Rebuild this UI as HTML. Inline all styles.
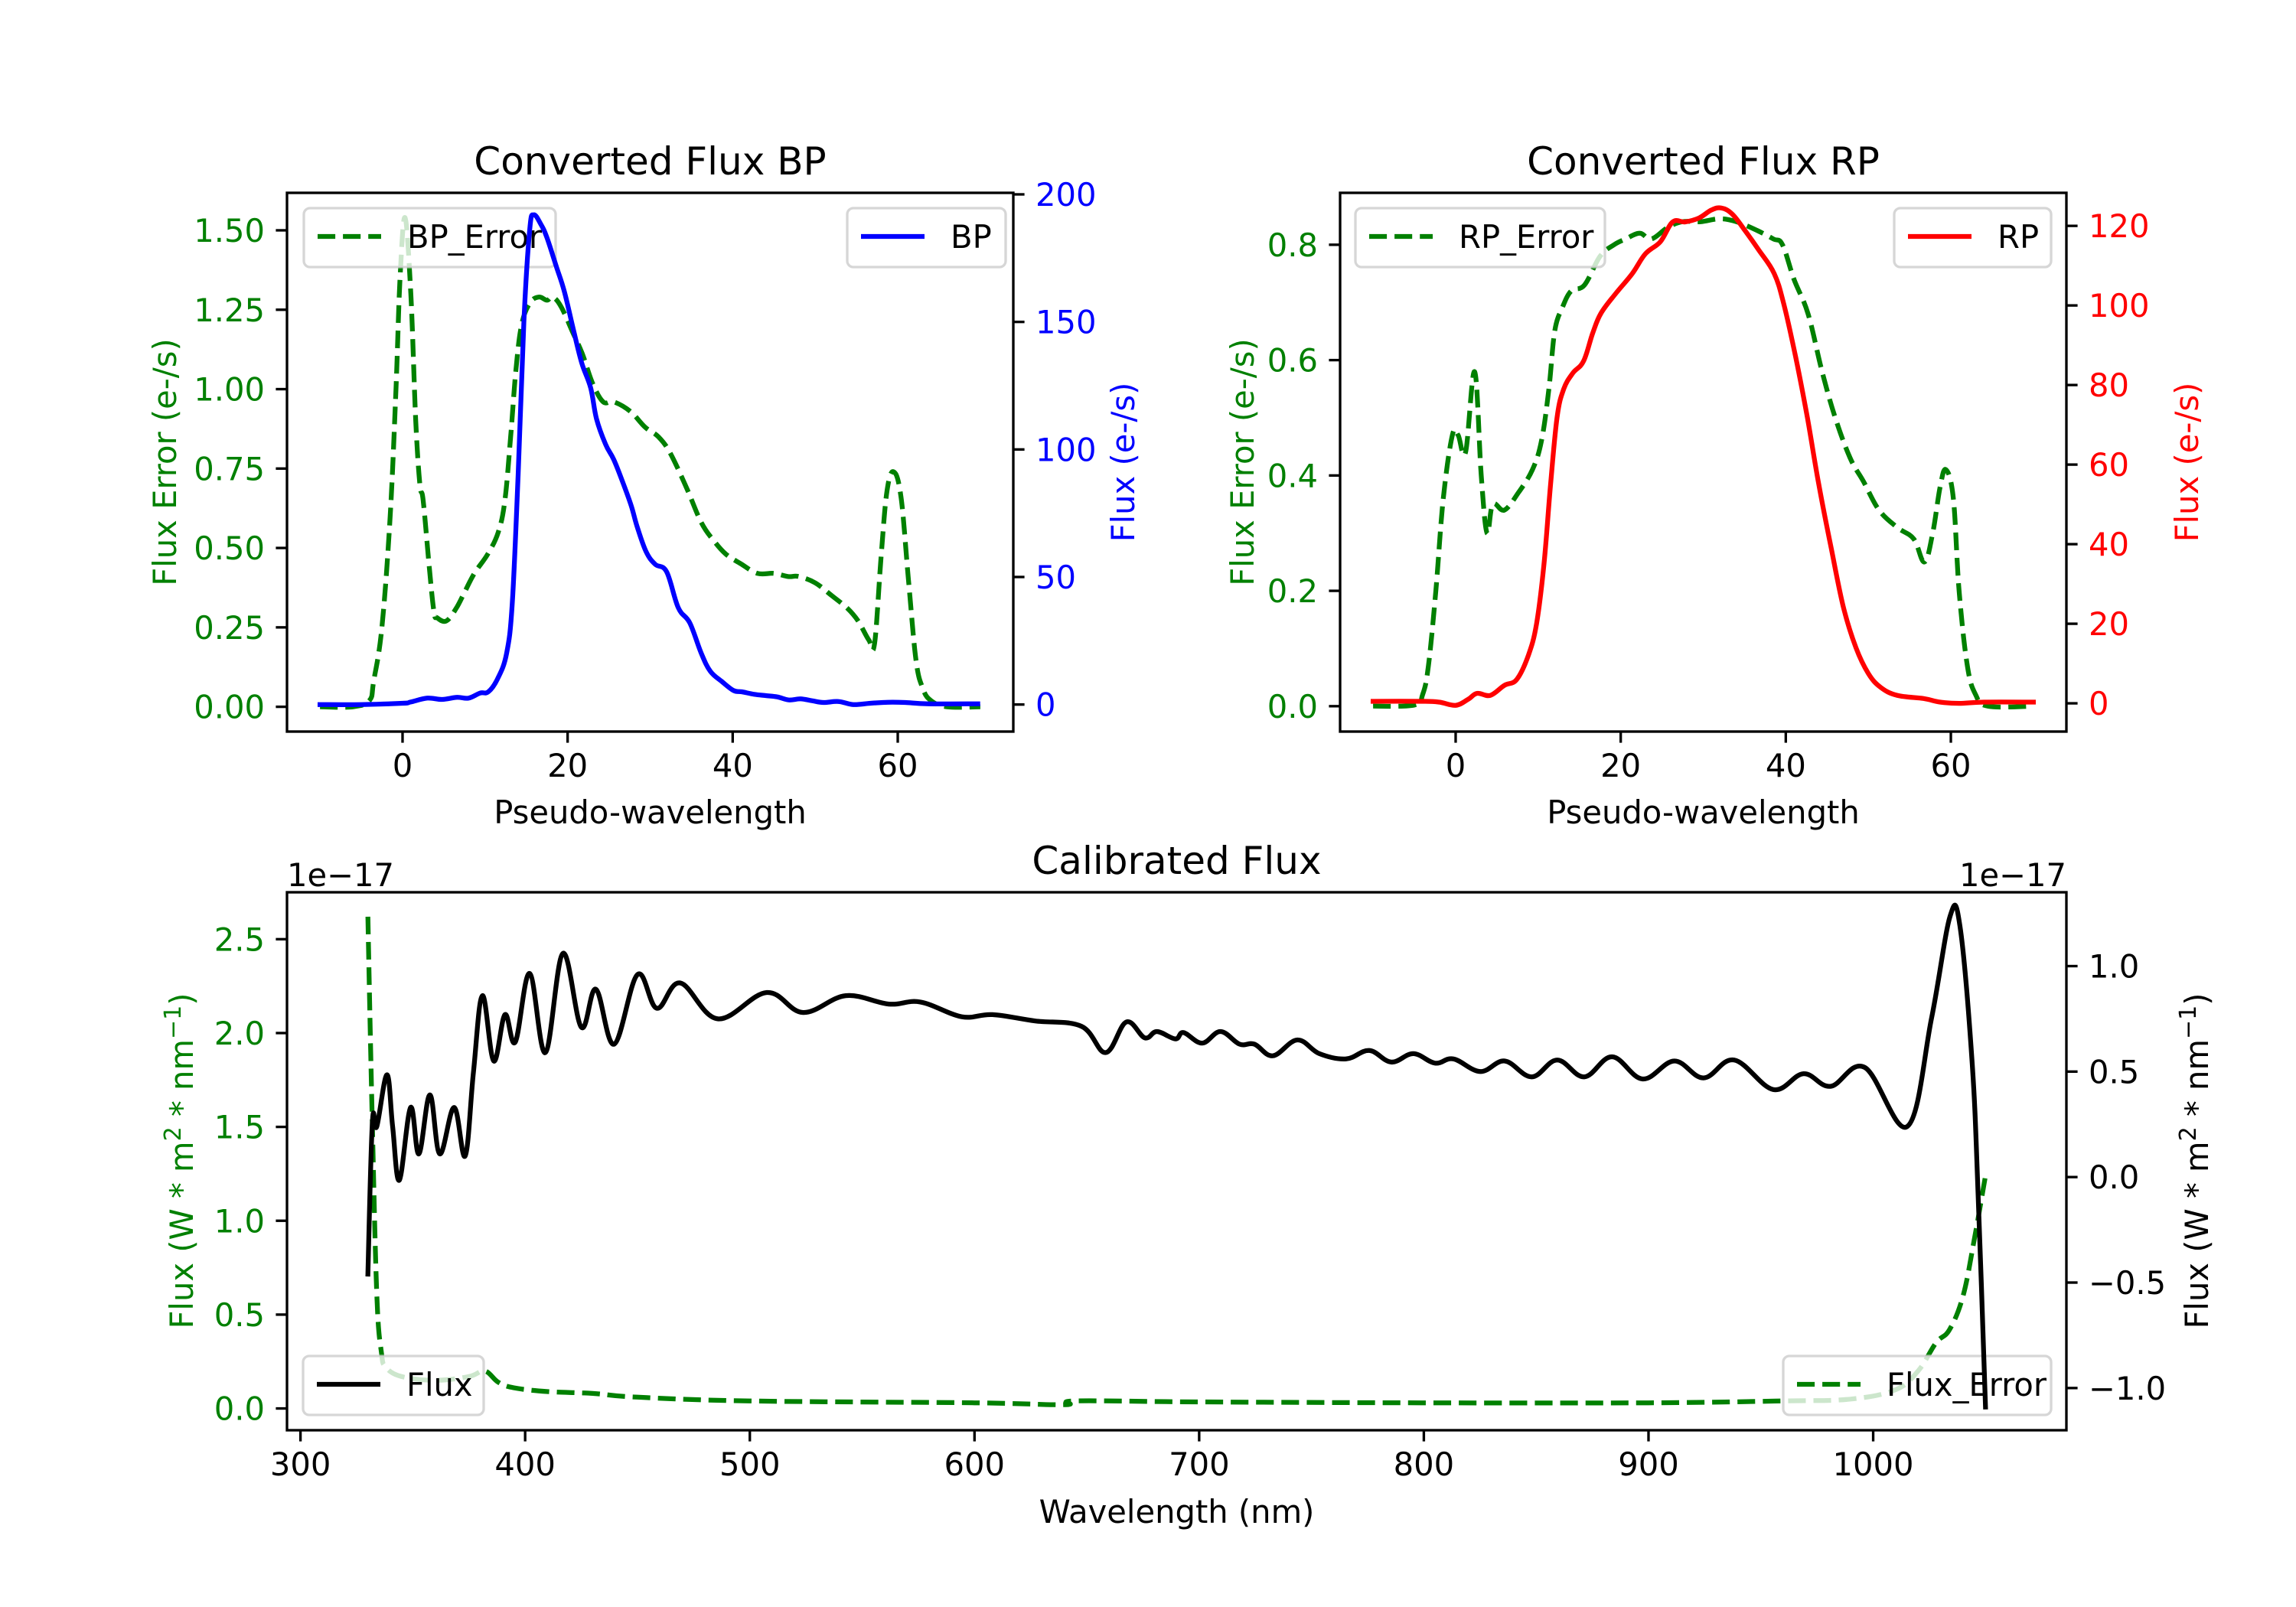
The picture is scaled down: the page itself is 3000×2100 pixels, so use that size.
<!DOCTYPE html>
<html><head><meta charset="utf-8"><style>
html,body{margin:0;padding:0;background:#fff}
svg{display:block;font-family:"DejaVu Sans","Liberation Sans",sans-serif}
</style></head><body>
<svg id="fig" width="3000" height="2100" viewBox="0 0 3000 2100" xmlns="http://www.w3.org/2000/svg"></svg>
<script>
// ---- data ----
const bpX=[-10,-5,0,1,3,4.8,6.6,8,9.4,10.4,11.5,12.6,13.3,14,14.7,15.4,15.9,16.8,17.5,18.6,19.6,20.7,21.7,22.8,23.5,24.6,25.6,26.7,27.7,28.4,29.5,30.6,32,33.4,34.8,36.2,37.3,38.7,40.1,41.1,42.6,44,45.4,46.8,48.2,49.6,51,52.8,54.6,56.7,58.8,60.9,63.7,69.7];
const bpFlux=[0,0,0.5,1,2.5,2,2.8,2.5,4.5,5,10,20,40,90,150,186,192,188,183,172,162,147,134,124,112,102,96,87,78,70,60,55,52,38,32,20,13,9,5.5,5,4,3.5,3,1.8,2.2,1.5,0.8,1.2,0,0.5,0.9,0.8,0.3,0.3];
const bpErrX=[-10,-6,-4,-3.5,-2.5,-1.5,-0.8,-0.3,0.3,1,1.6,2.1,2.5,3.2,3.8,4.2,5.3,6.5,7.5,8.7,10.3,11.6,12.4,13.1,13.7,14.4,15.4,16.5,17.5,18.2,19.2,20.6,21.8,23,24.3,25.6,27.6,29.4,31,32.4,34.4,36.2,37.8,39.2,41,43,45,46.7,48,50,52,53.9,55.2,56.5,57.2,58,58.7,59.5,60.4,61.3,62.2,63,64,66,70];
const bpErr=[0,0,0.02,0.08,0.25,0.6,1.0,1.35,1.54,1.3,0.9,0.7,0.65,0.45,0.3,0.28,0.27,0.31,0.36,0.42,0.48,0.55,0.65,0.85,1.05,1.2,1.27,1.29,1.28,1.29,1.26,1.18,1.11,1.02,0.96,0.96,0.93,0.88,0.85,0.8,0.69,0.58,0.52,0.48,0.45,0.42,0.42,0.41,0.41,0.39,0.35,0.31,0.27,0.21,0.2,0.48,0.68,0.74,0.66,0.4,0.15,0.06,0.02,0,0];
const rpX=[-10,-4,-2,0,1.5,2.6,4.2,5.9,7.4,8.8,9.8,10.7,11.5,12.3,13.1,14.2,15.5,16.6,17.6,19.4,21.4,23,24.8,26.3,27.8,29.5,31,32.2,33.5,35,36.7,38.6,39.8,41.2,42.6,44,45.5,47,48.5,50,51.5,53.5,56.7,58.7,61,64,70];
const rpFlux=[0.5,0.5,0.3,-0.5,1,2.5,2,4.5,6,12,20,35,55,72,79,83,86,93,98,103,108,113,116,121,121,122,124,124.5,123,119,114,108,100,87,72,55,39,24,14,7.5,4,2,1.2,0.3,0,0.3,0.3];
const rpErrX=[-10,-5,-4,-3.3,-2.4,-1.5,-0.4,0.3,1.2,2.3,3.1,3.8,4.5,5.9,7.6,9.3,10.4,11.3,12,12.9,14,15.6,17.5,19.2,20.6,22.3,23.7,25.7,27.5,29.7,32,34,36.5,38.5,39.6,41,42.7,44.4,46,47.8,49.4,51.3,53.5,55.5,56.8,57.8,58.7,59.4,60.3,61,62,63,64.5,70];
const rpErr=[0,0.002,0.02,0.07,0.2,0.36,0.47,0.47,0.44,0.58,0.4,0.3,0.35,0.34,0.37,0.41,0.46,0.55,0.65,0.69,0.72,0.73,0.78,0.8,0.81,0.82,0.81,0.83,0.84,0.84,0.845,0.84,0.825,0.81,0.8,0.74,0.68,0.58,0.5,0.43,0.39,0.34,0.31,0.29,0.25,0.3,0.38,0.41,0.36,0.2,0.07,0.02,0,0];
const calX=[330,332,334,338.5,341,344,349,352.7,357.6,362,368.4,373.3,377,381,386,391,395.6,402,409,416.8,425,431.5,439.6,450,458.6,469,485.7,507.5,523.7,542.7,561.8,575.9,594.3,608,627,647.6,658.4,667.6,675.8,681.2,689.4,693,701.3,709.5,718,724.6,732.8,743.7,753.5,765.4,775.7,785.5,795.3,805,813.2,825.1,836,848,859.4,871.4,883.8,897.4,911.5,924.5,938.1,955.5,969,981,996.2,1015.2,1026,1034.2,1038.6,1044,1046.7,1050];
const calFlux=[-0.46,0.26,0.24,0.485,0.24,-0.015,0.33,0.11,0.39,0.11,0.33,0.1,0.5,0.86,0.55,0.77,0.64,0.965,0.59,1.06,0.71,0.89,0.63,0.96,0.8,0.92,0.75,0.875,0.78,0.86,0.82,0.83,0.76,0.77,0.74,0.715,0.59,0.735,0.66,0.69,0.655,0.685,0.635,0.69,0.63,0.63,0.575,0.65,0.585,0.56,0.6,0.545,0.585,0.54,0.56,0.5,0.55,0.475,0.555,0.475,0.57,0.465,0.55,0.47,0.555,0.415,0.49,0.43,0.52,0.24,0.755,1.235,1.19,0.55,-0.08,-1.09];
const calErrX=[330,332,334,336,338,345,360,375,382,388,395,410,430,450,500,600,640,645,700,800,900,960,990,1010,1020,1028,1034,1040,1045,1050];
const calErr=[2.62,1.5,0.6,0.3,0.22,0.17,0.15,0.17,0.2,0.14,0.11,0.09,0.08,0.06,0.04,0.03,0.02,0.04,0.035,0.03,0.03,0.04,0.05,0.1,0.2,0.35,0.42,0.6,0.9,1.24];
const pseudoTicks=[0,20,40,60];
const bpErrTicks=[0,0.25,0.5,0.75,1.0,1.25,1.5];
const bpErrTickLabels=["0.00","0.25","0.50","0.75","1.00","1.25","1.50"];
const bpTicks=[0,50,100,150,200];
const rpErrTicks=[0,0.2,0.4,0.6,0.8];
const rpErrTickLabels=["0.0","0.2","0.4","0.6","0.8"];
const rpTicks=[0,20,40,60,80,100,120];
const wlTicks=[300,400,500,600,700,800,900,1000];
const calErrTicks=[0,0.5,1.0,1.5,2.0,2.5];
const calErrTickLabels=["0.0","0.5","1.0","1.5","2.0","2.5"];
const calTicks=[-1.0,-0.5,0,0.5,1.0];
const calTickLabels=["\u22121.0","\u22120.5","0.0","0.5","1.0"];

// ---- drawing ----
const NS="http://www.w3.org/2000/svg";
const svg=document.getElementById('fig');
function el(tag,attrs,parent){const e=document.createElementNS(NS,tag);for(const k in attrs)e.setAttribute(k,attrs[k]);(parent||svg).appendChild(e);return e;}
function scale(d0,d1,p0,p1){return v=>p0+(v-d0)*(p1-p0)/(d1-d0);}
const FS=41.67, TFS=50, LW=6.25, SW=3.33, TL=14.6;
function txt(s,x,y,opts,name){const t=el('text',Object.assign({x:x,y:y,'font-size':FS,fill:'#000'},opts||{}));t.textContent=s;

return t;}
function line(xs,ys,sx,sy,color,dashed,name){
  const P=xs.map((x,i)=>[sx(x),sy(ys[i])]);
  let d='M'+P[0][0].toFixed(1)+','+P[0][1].toFixed(1);
  const k=0.18;
  for(let i=0;i<P.length-1;i++){
    const p0=P[Math.max(0,i-1)],p1=P[i],p2=P[i+1],p3=P[Math.min(P.length-1,i+2)];
    const c1=[p1[0]+(p2[0]-p0[0])*k,p1[1]+(p2[1]-p0[1])*k];
    const c2=[p2[0]-(p3[0]-p1[0])*k,p2[1]-(p3[1]-p1[1])*k];
    d+='C'+c1[0].toFixed(1)+','+c1[1].toFixed(1)+' '+c2[0].toFixed(1)+','+c2[1].toFixed(1)+' '+p2[0].toFixed(1)+','+p2[1].toFixed(1);
  }
  const p=el('path',{d:d,fill:'none',stroke:color,'stroke-width':LW,'stroke-linejoin':'round','stroke-linecap':dashed?'butt':'square'});
  if(dashed)p.setAttribute('stroke-dasharray','23.1,10');
  
  
  return p;}
function xticks(ticks,labels,sx,y,name){ticks.forEach((t,i)=>{const x=sx(t);
  const l=el('line',{x1:x,x2:x,y1:y,y2:y+TL,stroke:'#000','stroke-width':SW});
  
  
  txt(labels[i],x,y+TL+14.6+30,{'text-anchor':'middle'},name+'-tick-label');});}
function yticks(ticks,labels,sy,x,side,color,name){ticks.forEach((t,i)=>{const y=sy(t);const dx=side==='left'?-TL:TL;
  const l=el('line',{x1:x,x2:x+dx,y1:y,y2:y,stroke:'#000','stroke-width':SW});
  
  
  txt(labels[i],side==='left'?x-29:x+29,y+15,{'text-anchor':side==='left'?'end':'start',fill:color},name+'-tick-label');});}
function frame(x0,y0,x1,y1,name){const r=el('rect',{x:x0,y:y0,width:x1-x0,height:y1-y0,fill:'none',stroke:'#000','stroke-width':SW});
  
  }
function legend(x,y,w,label,color,dashed,name){const g=el('g',{});
  
  
  el('rect',{x:x,y:y,width:w,height:77,rx:8,fill:'#fff','fill-opacity':0.8,stroke:'#cccccc','stroke-opacity':0.8,'stroke-width':3.3},g);
  const l=el('line',{x1:x+18,x2:x+101,y1:y+37,y2:y+37,stroke:color,'stroke-width':LW},g);
  if(dashed)l.setAttribute('stroke-dasharray','23.1,10');
  const t=el('text',{x:x+135,y:y+52,'font-size':FS,fill:'#000'},g);t.textContent=label;}
function vlabel(s,x,y,color,name){const t=el('text',{x:0,y:0,'font-size':FS,fill:color,'text-anchor':'middle',transform:`translate(${x},${y}) rotate(-90)`});t.textContent=s;
  
  return t;}

// Panel BP
{const X0=375,X1=1324,Y0=252,Y1=956;
 const sx=scale(-14,74,X0,X1), syL=scale(-0.078,1.618,Y1,Y0), syR=scale(-10.6,200.6,Y1,Y0);
 line(bpErrX,bpErr,sx,syL,'#008000',true,'bp-error-line');
 legend(397,272,329,'BP_Error','#008000',true,'bp-error-legend');
 line(bpX,bpFlux,sx,syR,'#0000ff',false,'bp-flux-line');
 legend(1107,272,207,'BP','#0000ff',false,'bp-legend');
 frame(X0,Y0,X1,Y1,'bp-axes-frame');
 xticks(pseudoTicks,pseudoTicks.map(String),sx,Y1,'bp-x');
 yticks(bpErrTicks,bpErrTickLabels,syL,X0,'left','#008000','bp-error-y');
 yticks(bpTicks,bpTicks.map(String),syR,X1,'right','#0000ff','bp-flux-y');
 txt('Converted Flux BP',(X0+X1)/2,228,{'text-anchor':'middle','font-size':TFS},'bp-title');
 txt('Pseudo-wavelength',(X0+X1)/2,1076,{'text-anchor':'middle'},'bp-x-axis-title');
 vlabel('Flux Error (e-/s)',230,604,'#008000','bp-error-y-axis-title');
 vlabel('Flux (e-/s)',1482,604,'#0000ff','bp-flux-y-axis-title');}
// Panel RP
{const X0=1751,X1=2700,Y0=252,Y1=956;
 const sx=scale(-14,74,X0,X1), syL=scale(-0.044,0.890,Y1,Y0), syR=scale(-7.1,128.3,Y1,Y0);
 line(rpErrX,rpErr,sx,syL,'#008000',true,'rp-error-line');
 legend(1771,272,326,'RP_Error','#008000',true,'rp-error-legend');
 line(rpX,rpFlux,sx,syR,'#ff0000',false,'rp-flux-line');
 legend(2475,272,205,'RP','#ff0000',false,'rp-legend');
 frame(X0,Y0,X1,Y1,'rp-axes-frame');
 xticks(pseudoTicks,pseudoTicks.map(String),sx,Y1,'rp-x');
 yticks(rpErrTicks,rpErrTickLabels,syL,X0,'left','#008000','rp-error-y');
 yticks(rpTicks,rpTicks.map(String),syR,X1,'right','#ff0000','rp-flux-y');
 txt('Converted Flux RP',(X0+X1)/2,228,{'text-anchor':'middle','font-size':TFS},'rp-title');
 txt('Pseudo-wavelength',(X0+X1)/2,1076,{'text-anchor':'middle'},'rp-x-axis-title');
 vlabel('Flux Error (e-/s)',1638,604,'#008000','rp-error-y-axis-title');
 vlabel('Flux (e-/s)',2872,604,'#ff0000','rp-flux-y-axis-title');}
// Panel calibrated
{const X0=375,X1=2700,Y0=1166,Y1=1869;
 const sx=scale(294,1086,X0,X1), syL=scale(-0.116,2.75,Y1,Y0), syR=scale(-1.20,1.35,Y1,Y0);
 line(calErrX,calErr,sx,syL,'#008000',true,'flux-error-line');
 legend(2330,1772,350,'Flux_Error','#008000',true,'flux-error-legend');
 line(calX,calFlux,sx,syR,'#000000',false,'flux-line');
 legend(396,1772,236,'Flux','#000000',false,'flux-legend');
 frame(X0,Y0,X1,Y1,'calibrated-axes-frame');
 xticks(wlTicks,wlTicks.map(String),sx,Y1,'wl-x');
 yticks(calErrTicks,calErrTickLabels,syL,X0,'left','#008000','flux-error-y');
 yticks(calTicks,calTickLabels,syR,X1,'right','#000000','flux-y');
 txt('Calibrated Flux',(X0+X1)/2,1142,{'text-anchor':'middle','font-size':TFS},'calibrated-title');
 txt('1e\u221217',X0,1158,{},'left-offset-label');
 txt('1e\u221217',X1,1158,{'text-anchor':'end'},'right-offset-label');
 txt('Wavelength (nm)',(X0+X1)/2,1990,{'text-anchor':'middle'},'wl-x-axis-title');
 const l1=vlabel('',252,1517,'#008000','flux-error-y-axis-title');
 l1.innerHTML='Flux (W * m<tspan dy="-16" font-size="30">2</tspan><tspan dy="16"> * nm</tspan><tspan dy="-16" font-size="30">\u22121</tspan><tspan dy="16">)</tspan>';
 const l2=vlabel('',2885,1517,'#000000','flux-y-axis-title');
 l2.innerHTML='Flux (W * m<tspan dy="-16" font-size="30">2</tspan><tspan dy="16"> * nm</tspan><tspan dy="-16" font-size="30">\u22121</tspan><tspan dy="16">)</tspan>';}
</script>
</body></html>
